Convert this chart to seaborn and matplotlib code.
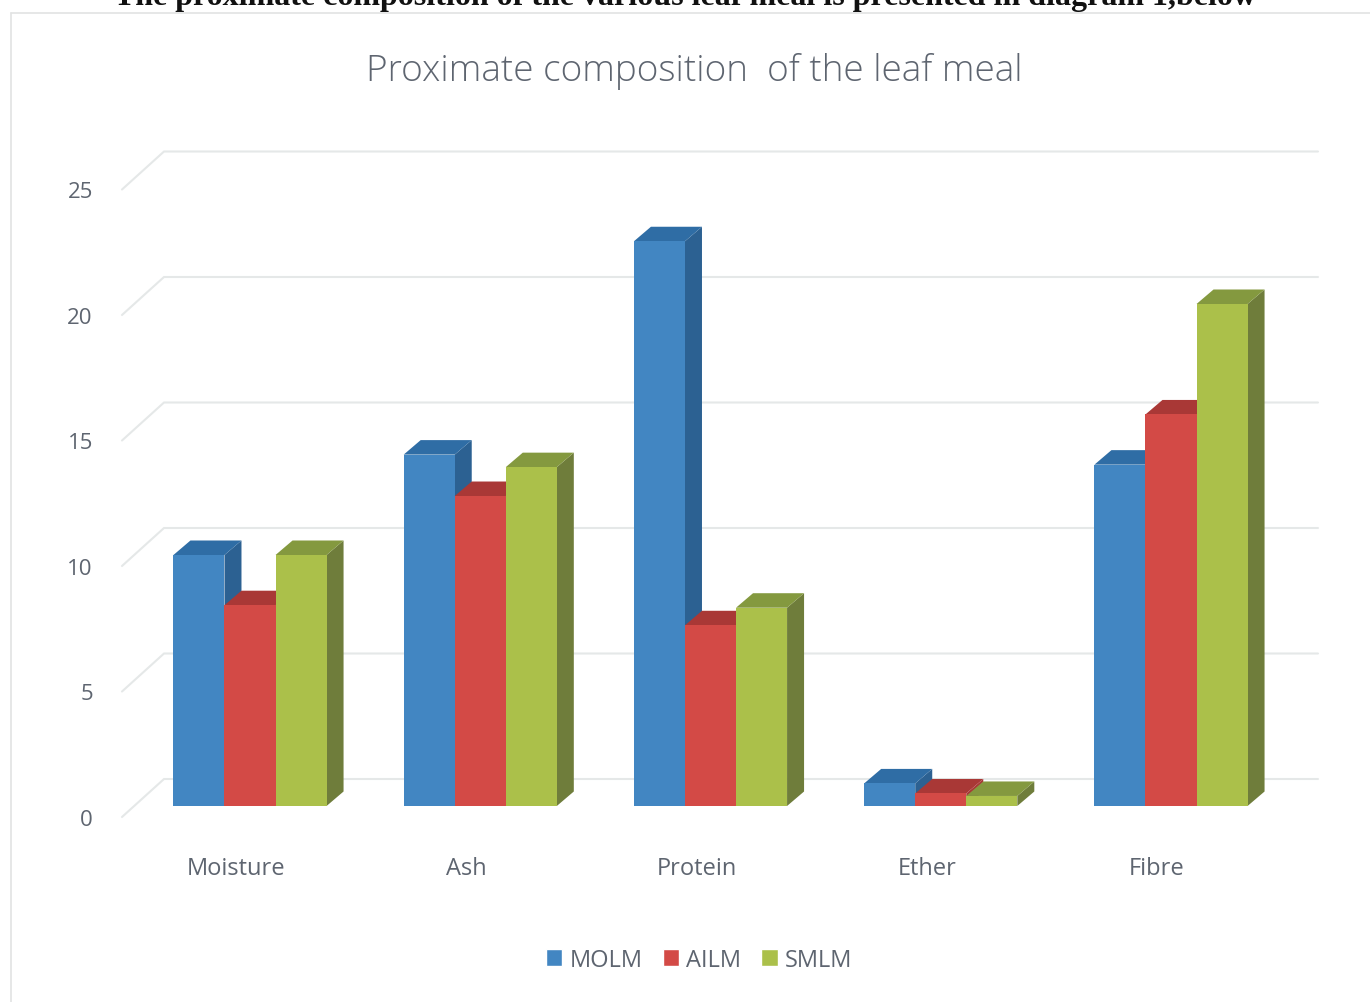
import matplotlib
matplotlib.use("Agg")
import matplotlib.pyplot as plt
from matplotlib.lines import Line2D
from matplotlib.patches import Polygon
from matplotlib.transforms import ScaledTranslation
import pandas as pd
import seaborn as sns

categories = ["Moisture", "Ash", "Protein", "Ether", "Fibre"]
molm = [10.0, 14.0, 22.5, 0.9, 13.6]
ailm = [8.0, 12.35, 7.2, 0.5, 15.6]
smlm = [10.0, 13.5, 7.9, 0.4, 20.0]
series_names = ["MOLM", "AILM", "SMLM"]
y_ticks = [0, 5, 10, 15, 20, 25]

front_colors = ["#4286C2", "#D34A46", "#ABC04A"]
top_colors = ["#2F6DA5", "#A93836", "#84993F"]
side_colors = ["#2C6192", "#A93836", "#6F7D3B"]
text_color = "#5E6570"
grid_color = "#E5E8E8"

W, H = 1370, 1003
DPI = 100
sns.set_theme(style="white")
plt.rcParams["font.family"] = ["Open Sans", "DejaVu Sans"]

frame = pd.DataFrame({
    "category": categories * 3,
    "series": [s for s in series_names for _ in categories],
    "value": molm + ailm + smlm,
})

fig = plt.figure(figsize=(W / DPI, H / DPI), dpi=DPI, facecolor="white")

# Axes run from the front-left floor corner to the end of the wall gridlines.
left_px, right_px, zero_px, top_px = 122, 1318, 807, 179.5
ax = fig.add_axes([left_px / W, 1 - zero_px / H,
                   (right_px - left_px) / W, (zero_px - top_px) / H])

sns.barplot(data=frame, x="category", y="value", hue="series",
            palette=front_colors, hue_order=series_names, order=categories,
            width=0.665, gap=0, saturation=1, ax=ax, legend=True)

px_per_cat = 230.25
px_per_unit = (zero_px - top_px) / 25
ax.set_xlim((left_px - 250) / px_per_cat, (right_px - 250) / px_per_cat)
ax.set_ylim(0, 25)

# Extrusion depth of each bar, in data units.
depth_x = 17 / px_per_cat
depth_y = 14.5 / px_per_unit

for s, container in enumerate(ax.containers):
    for bar in container:
        x0, x1 = bar.get_x(), bar.get_x() + bar.get_width()
        h = bar.get_height()
        z = 3 + s + 0.01 * bar.get_x()
        bar.set_zorder(z + 0.5)
        bar.set_linewidth(0)
        ax.add_patch(Polygon(
            [(x1, 0), (x1 + depth_x, depth_y), (x1 + depth_x, h + depth_y), (x1, h)],
            closed=True, fc=side_colors[s], ec="none", zorder=z, clip_on=False))
        ax.add_patch(Polygon(
            [(x0, h), (x1, h), (x1 + depth_x, h + depth_y), (x0 + depth_x, h + depth_y)],
            closed=True, fc=top_colors[s], ec="none", zorder=z, clip_on=False))

# Gridlines: a diagonal along the floor depth, then across the back wall.
wall_x = (164 - 250) / px_per_cat
end_x = (right_px - 250) / px_per_cat
start_x = (left_px - 250) / px_per_cat
front_dy = -11 / px_per_unit
back_dy = 27 / px_per_unit
for v in y_ticks:
    ax.plot([start_x, wall_x, end_x],
            [v + front_dy, v + back_dy, v + back_dy],
            color=grid_color, lw=1.5, zorder=1, clip_on=False,
            solid_joinstyle="miter")

sns.despine(ax=ax, left=True, bottom=True, top=True, right=True)
ax.grid(False)
ax.set_xlabel("")
ax.set_ylabel("")
ax.patch.set_alpha(0)

ax.set_yticks(y_ticks)
ax.set_yticklabels([str(v) for v in y_ticks])
ax.tick_params(axis="y", length=0, pad=21, labelsize=16, labelcolor=text_color)
ax.tick_params(axis="x", length=0, pad=36, labelsize=17, labelcolor=text_color)
y_shift = ScaledTranslation(0, -11 / DPI, fig.dpi_scale_trans)
x_shift = ScaledTranslation(-14 / DPI, 0, fig.dpi_scale_trans)
for lab in ax.get_yticklabels():
    lab.set_transform(lab.get_transform() + y_shift)
for lab in ax.get_xticklabels():
    lab.set_transform(lab.get_transform() + x_shift)

handles, labels = ax.get_legend_handles_labels()
ax.legend(handles, labels, ncol=3, frameon=False, loc="center",
          bbox_to_anchor=(699 / W, 1 - 961 / H), bbox_transform=fig.transFigure,
          fontsize=17, labelcolor=text_color, handlelength=0.7, handleheight=0.7,
          handletextpad=0.3, columnspacing=0.85, borderpad=0, borderaxespad=0)

fig.text(694 / W, 1 - 72 / H, "Proximate composition  of the leaf meal",
         ha="center", va="center", fontsize=26.6, color=text_color,
         fontweight="light")

# Caption line sitting just above the chart frame, cut by the page edge.
fig.text(685 / W, 1 - 5 / H,
         "The proximate composition of the various leaf meal is presented in diagram 1,below",
         ha="center", va="baseline", fontsize=23, fontweight="bold",
         color="#111111", family="Liberation Serif")

# Thin frame around the chart area.
frame_color = "#E2E3E3"
fig.add_artist(Line2D([11 / W, 11 / W], [0, 1 - 14 / H], color=frame_color, lw=1.2))
fig.add_artist(Line2D([11 / W, 1], [1 - 14 / H, 1 - 14 / H], color=frame_color, lw=1.2))

fig.savefig("out.png", dpi=DPI)
